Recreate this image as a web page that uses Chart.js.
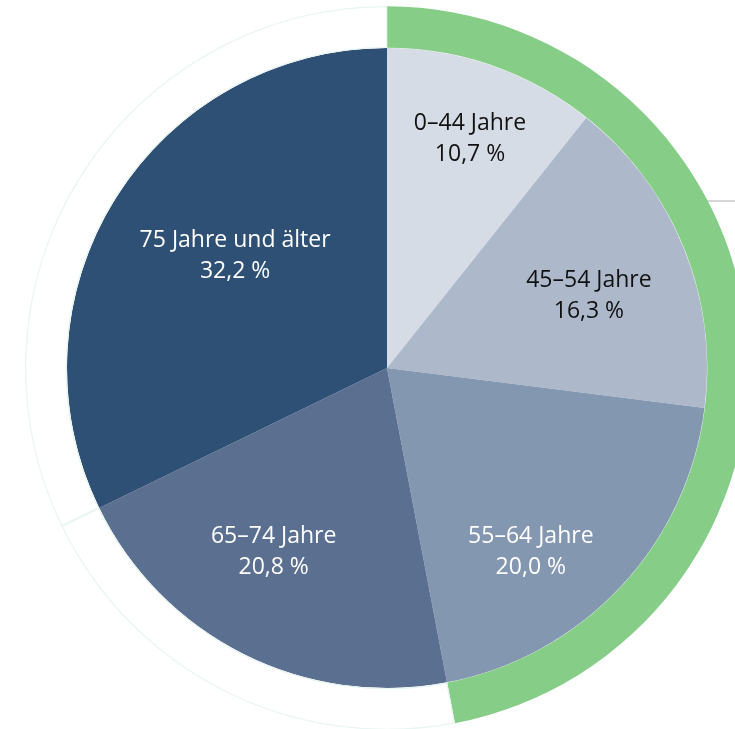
<!DOCTYPE html>
<html lang="de">
<head>
<meta charset="utf-8">
<title>Altersstruktur</title>
<script src="https://cdn.jsdelivr.net/npm/chart.js@4/dist/chart.umd.min.js"></script>
<style>
  html, body { margin: 0; padding: 0; background: #fff; overflow: hidden; }
  body { width: 735px; height: 729px; position: relative; }
  #wrap { position: absolute; left: 25px; top: 6px; width: 724px; height: 724px; }
</style>
</head>
<body>
<div id="wrap"><canvas id="altersChart" width="724" height="724"></canvas></div>
<script>
// Altersgruppen und Anteile in %
const gruppen = ['0–44 Jahre', '45–54 Jahre', '55–64 Jahre', '65–74 Jahre', '75 Jahre und älter'];
const anteile = [10.7, 16.3, 20.0, 20.8, 32.2];

// äußerer Ring: unter 65 Jahre zusammengefasst, danach die beiden älteren Gruppen
const ringGruppen = ['unter 65 Jahre', '65–74 Jahre', '75 Jahre und älter'];
const ringAnteile = [47.0, 20.8, 32.2];

const farben = ['#d6dce5', '#adb9ca', '#8497b0', '#5b7090', '#2f5075'];
const textFarben = ['#111', '#111', '#fff', '#fff', '#fff'];
// Lage der Beschriftung: Winkelversatz (Grad) und Anteil am Radius
const labelWinkel = [0.7, 2.5, 8.8, 5.0, 4.4];
const labelRadius = [0.76, 0.67, 0.73, 0.675, 0.59];

const fmt = v => v.toFixed(1).replace('.', ',') + ' %';

const labelPlugin = {
  id: 'sliceLabels',
  beforeDatasetsDraw(chart) {
    // kurze graue Linie rechts hinter dem Ring
    const c = chart.ctx;
    c.save();
    c.strokeStyle = '#c8c8c8';
    c.lineWidth = 1.5;
    c.beginPath();
    c.moveTo(670, 195);
    c.lineTo(chart.width, 195);
    c.stroke();
    c.restore();
  },
  afterDatasetsDraw(chart) {
    const c = chart.ctx;
    const meta = chart.getDatasetMeta(1);
    c.save();
    c.font = '23px "Open Sans"';
    c.textAlign = 'center';
    c.textBaseline = 'middle';
    meta.data.forEach((arc, i) => {
      const p = arc.getProps(['startAngle', 'endAngle', 'x', 'y', 'outerRadius'], true);
      const a = (p.startAngle + p.endAngle) / 2 + labelWinkel[i] * Math.PI / 180;
      const r = p.outerRadius * labelRadius[i];
      const x = p.x + Math.cos(a) * r;
      const y = p.y + Math.sin(a) * r;
      c.fillStyle = textFarben[i];
      c.fillText(gruppen[i], x, y - 15.5);
      c.fillText(fmt(anteile[i]), x, y + 15.5);
    });
    c.restore();
  }
};

new Chart(document.getElementById('altersChart'), {
  type: 'doughnut',
  data: {
    labels: gruppen,
    datasets: [
      {
        label: 'Ring',
        data: ringAnteile,
        backgroundColor: ['#86cd88', '#ffffff', '#ffffff'],
        borderColor: ['#86cd88', '#e9f5f2', '#e9f5f2'],
        borderWidth: [0, 1, 1],
        borderAlign: 'inner',
        weight: 42
      },
      {
        label: 'Anteil',
        data: anteile,
        backgroundColor: farben,
        borderWidth: 0,
        weight: 320
      }
    ]
  },
  options: {
    responsive: false,
    animation: false,
    cutout: 0,
    layout: { padding: 0 },
    plugins: {
      legend: { display: false },
      tooltip: { enabled: false }
    }
  },
  plugins: [labelPlugin]
});
</script>
</body>
</html>
